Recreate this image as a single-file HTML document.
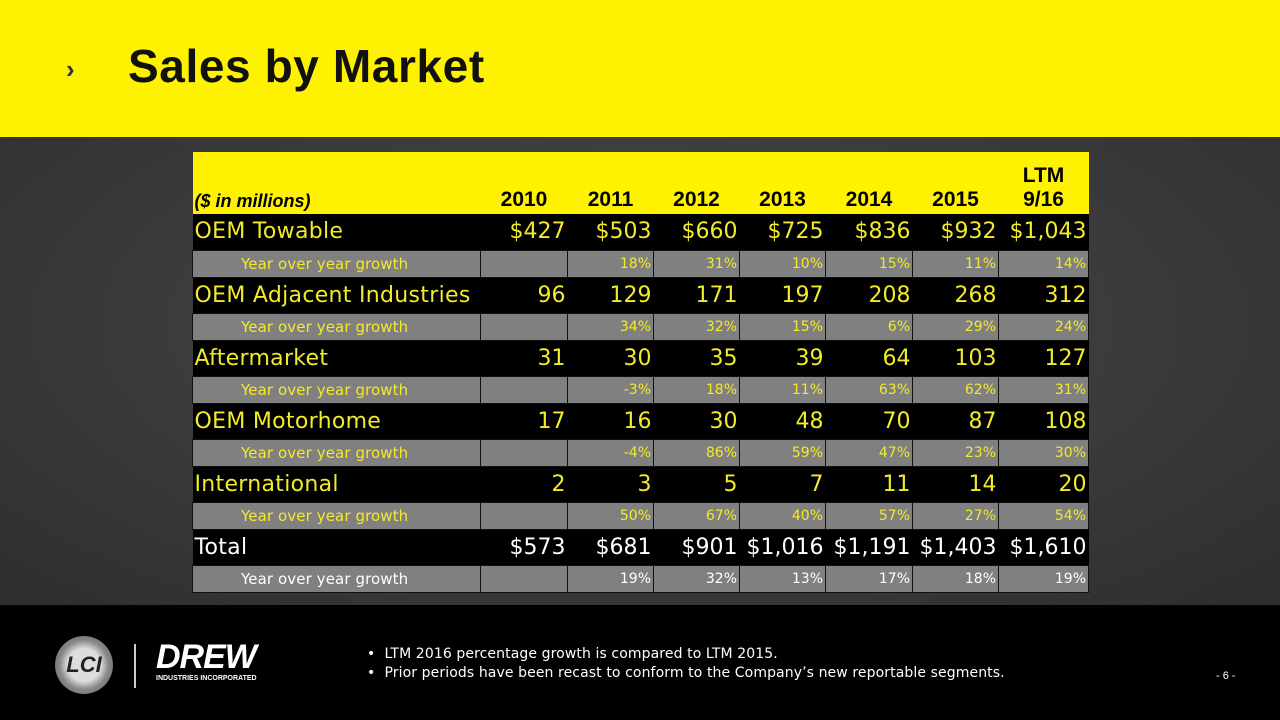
<!DOCTYPE html>
<html><head><meta charset="utf-8"><style>
*{margin:0;padding:0;box-sizing:border-box}
body{width:1280px;height:720px;overflow:hidden;background:#000;font-family:"Liberation Sans",sans-serif;position:relative}
#hdr{position:absolute;left:0;top:0;width:1280px;height:137px;background:#fff200}
#chev{position:absolute;left:66px;top:54px;font-size:26px;font-weight:bold;color:#333}
#title{position:absolute;left:128px;top:39px;font-size:46px;font-weight:bold;color:#111;letter-spacing:0.6px}
#mid{position:absolute;left:0;top:137px;width:1280px;height:468px;background:radial-gradient(ellipse at 50% 40%,#4a4a4a,#2e2e2e)}
table{position:absolute;left:192px;top:152px;width:896px;border-collapse:collapse;table-layout:fixed}
td{padding:0 2px;text-align:right;white-space:nowrap}
tr.h td{background:#fff200;height:62px;color:#000;font-weight:bold;font-size:21px;vertical-align:bottom;padding-bottom:2px;text-align:center}
tr.h td.l{text-align:left;font-style:italic;font-size:18px}
tr.m td{background:#000;color:#f2ea2a;font-family:"DejaVu Sans",sans-serif;font-size:22px;height:36px}
tr.m td.l{text-align:left;letter-spacing:0.3px}
tr.s td{background:#808080;color:#f2ea2a;font-family:"DejaVu Sans",sans-serif;font-size:14px;height:27px;border:1px solid #111}
tr.s td.l{text-align:left;padding-left:48px;font-size:15px;letter-spacing:0.1px}
tr.t td{color:#fff}
tr.ts td{color:#fff}
#foot{position:absolute;left:0;top:605px;width:1280px;height:115px;background:#000}
.logo{position:absolute;left:55px;top:636px;width:58px;height:58px;border-radius:50%;background:radial-gradient(circle,#ddd 40%,#888 60%,#555);color:#222;font-weight:bold;font-size:22px;text-align:center;line-height:58px;font-style:italic}
#sep{position:absolute;left:134px;top:644px;width:2px;height:44px;background:#ccc}
#drew{position:absolute;left:156px;top:638px;color:#fff;font-weight:bold;font-style:italic;font-size:34px;letter-spacing:-1px}
#inc{position:absolute;left:156px;top:675px;color:#fff;font-weight:bold;font-size:7px}
#notes{position:absolute;left:367px;top:645px;color:#fff;font-family:"DejaVu Sans",sans-serif;font-size:14px;line-height:19px;letter-spacing:0.1px}
#pg{position:absolute;left:1216px;top:670px;color:#fff;font-size:11px}
</style></head><body>
<div id="hdr"></div>
<div id="chev">›</div>
<div id="title">Sales by Market</div>
<div id="mid"></div>
<table>
<colgroup><col style="width:288px"><col style="width:87px"><col style="width:86px"><col style="width:86px"><col style="width:86px"><col style="width:87px"><col style="width:86px"><col style="width:90px"></colgroup>
<tr class="h"><td class="l">($ in millions)</td><td>2010</td><td>2011</td><td>2012</td><td>2013</td><td>2014</td><td>2015</td><td>LTM<br>9/16</td></tr>
<tr class="m"><td class="l">OEM Towable</td><td>$427</td><td>$503</td><td>$660</td><td>$725</td><td>$836</td><td>$932</td><td>$1,043</td></tr>
<tr class="s"><td class="l">Year over year growth</td><td></td><td>18%</td><td>31%</td><td>10%</td><td>15%</td><td>11%</td><td>14%</td></tr>
<tr class="m"><td class="l">OEM Adjacent Industries</td><td>96</td><td>129</td><td>171</td><td>197</td><td>208</td><td>268</td><td>312</td></tr>
<tr class="s"><td class="l">Year over year growth</td><td></td><td>34%</td><td>32%</td><td>15%</td><td>6%</td><td>29%</td><td>24%</td></tr>
<tr class="m"><td class="l">Aftermarket</td><td>31</td><td>30</td><td>35</td><td>39</td><td>64</td><td>103</td><td>127</td></tr>
<tr class="s"><td class="l">Year over year growth</td><td></td><td>-3%</td><td>18%</td><td>11%</td><td>63%</td><td>62%</td><td>31%</td></tr>
<tr class="m"><td class="l">OEM Motorhome</td><td>17</td><td>16</td><td>30</td><td>48</td><td>70</td><td>87</td><td>108</td></tr>
<tr class="s"><td class="l">Year over year growth</td><td></td><td>-4%</td><td>86%</td><td>59%</td><td>47%</td><td>23%</td><td>30%</td></tr>
<tr class="m"><td class="l">International</td><td>2</td><td>3</td><td>5</td><td>7</td><td>11</td><td>14</td><td>20</td></tr>
<tr class="s"><td class="l">Year over year growth</td><td></td><td>50%</td><td>67%</td><td>40%</td><td>57%</td><td>27%</td><td>54%</td></tr>
<tr class="m t"><td class="l">Total</td><td>$573</td><td>$681</td><td>$901</td><td>$1,016</td><td>$1,191</td><td>$1,403</td><td>$1,610</td></tr>
<tr class="s ts"><td class="l">Year over year growth</td><td></td><td>19%</td><td>32%</td><td>13%</td><td>17%</td><td>18%</td><td>19%</td></tr>
</table>
<div id="foot"></div>
<div class="logo">LCI</div>
<div id="sep"></div>
<div id="drew">DREW</div>
<div id="inc">INDUSTRIES INCORPORATED</div>
<div id="notes">•&nbsp; LTM 2016 percentage growth is compared to LTM 2015.<br>•&nbsp; Prior periods have been recast to conform to the Company’s new reportable segments.</div>
<div id="pg">- 6 -</div>
</body></html>
